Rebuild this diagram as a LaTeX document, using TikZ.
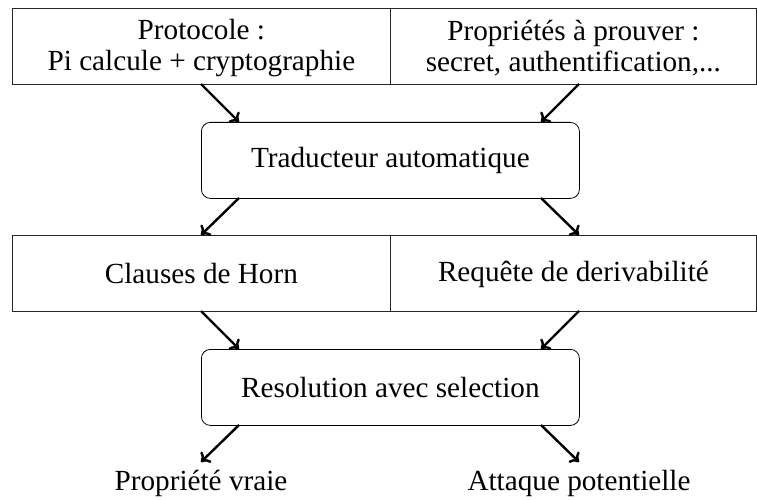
\documentclass[tikz,border=0pt]{standalone}
\usepackage{fontspec}
\setmainfont{Liberation Serif}
\usetikzlibrary{arrows.meta}
\newcommand{\headroom}[1]{\rule{0pt}{#1pt}}
\tikzset{
  x=1pt,y=-1pt,
  lab/.style={font=\fontsize{29.2}{31}\selectfont,align=center,inner sep=0pt},
  sq/.style={draw=black!85,line width=0.8pt,minimum height=76pt,inner sep=0pt,anchor=north west,align=center,font=\fontsize{29.2}{31}\selectfont},
  rnd/.style={draw=black,line width=0.8pt,rounded corners=9pt,minimum width=378pt,minimum height=76pt,inner sep=0pt,anchor=north west,font=\fontsize{29.2}{31}\selectfont},
  arr/.style={line width=2.4pt,-{To[length=8pt,width=15pt]}}
}
\begin{document}
\begin{tikzpicture}
\useasboundingbox (0,0) rectangle (757,500);
\node[sq,minimum width=378pt] (a) at (12,8) {\headroom{24}Protocole :\\Pi calcule + cryptographie};
\node[sq,minimum width=366pt] (b) at (390,8) {\headroom{23}Propriétés à prouver :\\secret, authentification,...};
\node[rnd] (t) at (201,122) {Traducteur automatique};
\node[sq,minimum width=378pt] (c) at (12,235) {\headroom{21}Clauses de Horn};
\node[sq,minimum width=366pt] (d) at (390,235) {\headroom{23}Requête de derivabilité};
\node[rnd] (r) at (201,349) {Resolution avec selection};
\node[lab] (v) at (201,483) {Propriété vraie};
\node[lab] (p) at (579,483) {Attaque potentielle};
\coordinate (tl) at (239,122);
\coordinate (tr) at (541,122);
\coordinate (tbl) at (239,198);
\coordinate (tbr) at (541,198);
\coordinate (cn) at (201,235);
\coordinate (dn) at (579,235);
\coordinate (cs) at (201,311);
\coordinate (ds) at (579,311);
\coordinate (rl) at (239,349);
\coordinate (rr) at (541,349);
\coordinate (rbl) at (239,425);
\coordinate (rbr) at (541,425);
\coordinate (as) at (201,84);
\coordinate (bs) at (579,84);
\coordinate (vn) at (201,462);
\coordinate (pn) at (579,462);
\draw[arr] (as) -- (tl);
\draw[arr] (bs) -- (tr);
\draw[arr] (tbl) -- (cn);
\draw[arr] (tbr) -- (dn);
\draw[arr] (cs) -- (rl);
\draw[arr] (ds) -- (rr);
\draw[arr] (rbl) -- (vn);
\draw[arr] (rbr) -- (pn);
\end{tikzpicture}
\end{document}
